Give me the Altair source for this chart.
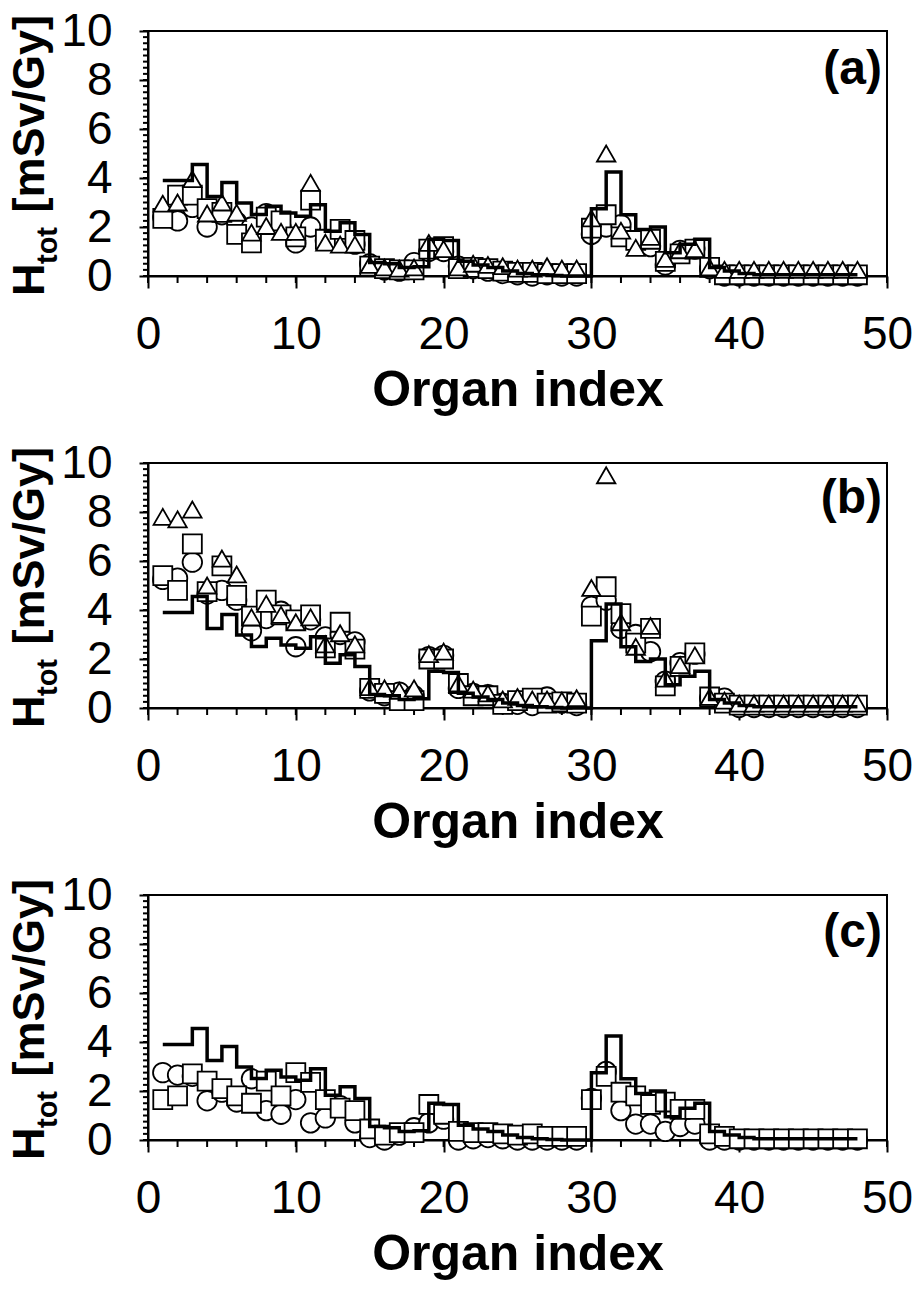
import altair as alt
import pandas as pd

organ = list(range(1, 49))

# reference step line (same in all panels)
h_step = [3.9, 3.9, 4.55, 3.25, 3.82, 2.98, 2.51, 2.85, 2.57, 2.44, 2.91, 1.83, 2.17, 1.69,
          0.55, 0.5, 0.35, 0.38, 1.5, 1.45, 0.6, 0.45, 0.35, 0.2, 0.1, 0.05, 0.02, 0.0, 0.0,
          2.75, 4.25, 2.5, 1.9, 2.0, 0.95, 1.3, 1.5, 0.35, 0.2, 0.1,
          0.05, 0.05, 0.05, 0.05, 0.05, 0.05, 0.05, 0.05]

# panel (a)
a_circle = [2.4, 2.25, 2.8, 2.0, 2.5, 2.2, 2.0, 2.55, 2.0, 1.35, 2.0, 1.45, 1.45, 1.3,
            0.5, 0.25, 0.2, 0.55, 1.0, 1.0, 0.4, 0.3, 0.2, 0.1, 0.05, 0.0, 0.05, 0.0, 0.0,
            1.7, 2.0, 2.1, 1.4, 1.2, 0.45, 1.05, 1.1, 0.3,
            0.0, 0.0, 0.0, 0.0, 0.0, 0.0, 0.0, 0.0, 0.0, 0.0]
a_square = [2.35, 3.3, 3.3, 2.75, 2.6, 1.7, 1.35, 2.4, 2.25, 1.6, 3.1, 1.5, 1.9, 1.45,
            0.4, 0.3, 0.25, 0.25, 1.1, 1.2, 0.3, 0.35, 0.3, 0.2, 0.15, 0.15, 0.1, 0.1, 0.1,
            1.95, 2.5, 1.6, 1.45, 1.5, 0.6, 0.9, 1.1, 0.35,
            0.05, 0.05, 0.05, 0.05, 0.05, 0.05, 0.05, 0.05, 0.05, 0.05]
a_triangle = [2.95, 3.0, 3.95, 2.55, 3.0, 2.58, 1.77, 2.04, 1.8, 1.8, 3.8, 1.36, 1.28, 1.28,
              0.45, 0.35, 0.3, 0.35, 1.35, 1.1, 0.35, 0.5, 0.45, 0.4, 0.3, 0.3, 0.4, 0.3, 0.3,
              2.35, 5.0, 1.85, 1.15, 1.6, 0.7, 1.05, 1.1, 0.35,
              0.25, 0.25, 0.25, 0.25, 0.25, 0.25, 0.25, 0.25, 0.25, 0.25]

# panel (b)
b_circle = [5.25, 5.3, 5.95, 4.65, 4.8, 4.4, 3.15, 3.65, 3.95, 2.5, 3.6, 2.9, 3.0, 2.7,
            0.7, 0.5, 0.65, 0.5, 2.1, 2.15, 0.8, 0.6, 0.55, 0.2, 0.15, 0.1, 0.45, 0.2, 0.1,
            4.15, 4.4, 3.25, 3.0, 2.3, 1.1, 1.85, 2.2, 0.4, 0.4,
            0.02, 0.02, 0.02, 0.02, 0.02, 0.02, 0.02, 0.02, 0.02]
b_square = [5.4, 4.8, 6.7, 4.75, 5.8, 4.6, 3.75, 4.4, 3.8, 3.6, 3.8, 2.45, 3.5, 2.4,
            0.8, 0.6, 0.3, 0.3, 2.0, 2.0, 1.0, 0.5, 0.5, 0.15, 0.3, 0.4, 0.2, 0.25, 0.2,
            3.75, 4.95, 3.85, 2.65, 3.25, 0.9, 1.7, 2.25, 0.45, 0.2,
            0.12, 0.12, 0.12, 0.12, 0.12, 0.12, 0.12, 0.12, 0.12]
b_triangle = [7.8, 7.7, 8.1, 5.0, 6.1, 5.45, 3.7, 4.25, 3.8, 3.5, 3.7, 2.6, 3.05, 2.6,
              0.85, 0.8, 0.7, 0.8, 2.2, 2.3, 1.0, 0.75, 0.6, 0.35, 0.45, 0.35, 0.35, 0.3, 0.4,
              4.9, 9.5, 3.5, 2.5, 3.35, 1.2, 1.75, 2.15, 0.45, 0.3,
              0.18, 0.18, 0.18, 0.18, 0.18, 0.18, 0.18, 0.18, 0.18]

# panel (c)
c_circle = [2.75, 2.65, 2.6, 1.6, 1.95, 1.55, 2.5, 1.2, 1.05, 1.65, 0.7, 0.9, 1.4, 0.7,
            0.1, 0.0, 0.2, 0.5, 0.7, 0.85, 0.0, 0.05, 0.1, 0.05, 0.0, 0.0, 0.0, 0.0, 0.0,
            1.7, 2.8, 1.2, 0.65, 0.65, 0.35, 0.55, 0.65, 0.0, 0.0,
            0.0, 0.0, 0.0, 0.0, 0.0, 0.0, 0.0, 0.0, 0.0]
c_square = [1.65, 1.8, 2.7, 2.4, 2.1, 1.8, 1.5, 2.4, 1.8, 2.75, 2.35, 1.65, 1.3, 1.2,
            0.45, 0.2, 0.3, 0.3, 1.45, 1.05, 0.35, 0.3, 0.3, 0.25, 0.2, 0.25, 0.15, 0.15, 0.15,
            1.65, 2.6, 1.95, 1.8, 1.45, 1.55, 1.25, 1.25, 0.25, 0.15,
            0.05, 0.05, 0.05, 0.05, 0.05, 0.05, 0.05, 0.05, 0.05]

panel_labels = ["(a)", "(b)", "(c)"]
x_title = "Organ index"
x_major = [0, 10, 20, 30, 40, 50]
x_minor = list(range(0, 51, 2))
y_major = [0, 2, 4, 6, 8, 10]
y_minor = [i / 4 for i in range(41)]

W, H = 739, 245
FONT = "Liberation Sans"

xscale = alt.Scale(domain=[0, 50], nice=False, zero=False)
yscale = alt.Scale(domain=[0, 10], nice=False, zero=False)

xaxis = alt.Axis(
    values=x_major, format="d", tickSize=12,
    labelPadding=24, labelFontSize=46, labelFont=FONT, labelColor="black",
    labelOverlap=False, labelFlush=False,
    title=x_title, titleFontSize=50, titleFont=FONT, titleFontWeight="bold",
    titleColor="black", titlePadding=8,
    grid=False, domainColor="black", domainWidth=2, tickColor="black", tickWidth=2,
)
yaxis = alt.Axis(
    values=y_major, format="d", tickSize=9,
    labelPadding=27, labelFontSize=46, labelFont=FONT, labelColor="black",
    labelOverlap=False, labelFlush=False, labelBaseline="middle",
    title=None,
    grid=False, domainColor="black", domainWidth=2, tickColor="black", tickWidth=2,
)

shape_scale = alt.Scale(domain=["circle", "square", "triangle"],
                        range=["circle", "square", "triangle-up"])
size_scale = alt.Scale(domain=["circle", "square", "triangle"], range=[380, 340, 400])


def make_panel(series, label, label_y):
    rows = []
    for name, vals in series:
        for o, v in zip(organ, vals):
            rows.append({"organ": o, "h": v, "series": name})
    pts = pd.DataFrame(rows)
    line_df = pd.DataFrame({"organ": organ, "h": h_step})

    X = alt.X("organ:Q", scale=xscale, axis=xaxis)
    Y = alt.Y("h:Q", scale=yscale, axis=yaxis)

    points = alt.Chart(pts).mark_point(
        filled=True, color="white", stroke="black", strokeWidth=1.8,
        opacity=1, clip=False
    ).encode(
        x=X, y=Y,
        shape=alt.Shape("series:N", scale=shape_scale, legend=None),
        size=alt.Size("series:N", scale=size_scale, legend=None),
    )
    step = alt.Chart(line_df).mark_line(
        interpolate="step-after", color="black", strokeWidth=3.5, clip=False
    ).encode(x=X, y=Y)

    xminor = alt.Chart(pd.DataFrame({"organ": x_minor})).mark_rule(
        color="black", strokeWidth=2
    ).encode(x=X, y=alt.value(H), y2=alt.value(H + 7))
    yminor = alt.Chart(pd.DataFrame({"h": y_minor})).mark_rule(
        color="black", strokeWidth=2
    ).encode(y=Y, x=alt.value(-5), x2=alt.value(0))

    one = pd.DataFrame({"k": [0]})
    lab = alt.Chart(one).mark_text(
        text=label, align="right", baseline="middle", font=FONT,
        fontSize=48, fontWeight="bold", color="black"
    ).encode(x=alt.value(W - 5), y=alt.value(label_y))
    t_h = alt.Chart(one).mark_text(
        text="H", align="left", baseline="alphabetic", angle=270, font=FONT,
        fontSize=45, fontWeight="bold", color="black"
    ).encode(x=alt.value(-104), y=alt.value(265))
    t_sub = alt.Chart(one).mark_text(
        text="tot", align="left", baseline="alphabetic", angle=270, font=FONT,
        fontSize=29, fontWeight="bold", color="black"
    ).encode(x=alt.value(-91), y=alt.value(233))
    t_unit = alt.Chart(one).mark_text(
        text="[mSv/Gy]", align="right", baseline="alphabetic", angle=270, font=FONT,
        fontSize=45, fontWeight="bold", color="black"
    ).encode(x=alt.value(-104), y=alt.value(-16))
    return alt.layer(xminor, yminor, points, step, lab, t_h, t_sub, t_unit).properties(
        width=W, height=H)


pa = make_panel([("circle", a_circle), ("square", a_square), ("triangle", a_triangle)],
                panel_labels[0], 39)
pb = make_panel([("circle", b_circle), ("square", b_square), ("triangle", b_triangle)],
                panel_labels[1], 36)
pc = make_panel([("circle", c_circle), ("square", c_square)], panel_labels[2], 38)

chart = alt.vconcat(pa, pb, pc, spacing=187, bounds="flush").properties(
    padding={"left": 7, "top": 7, "right": 1, "bottom": 1},
    background="white",
).configure_view(stroke="black", strokeWidth=2)

chart.save("out.html", embed_options={"renderer": "svg", "actions": False})
